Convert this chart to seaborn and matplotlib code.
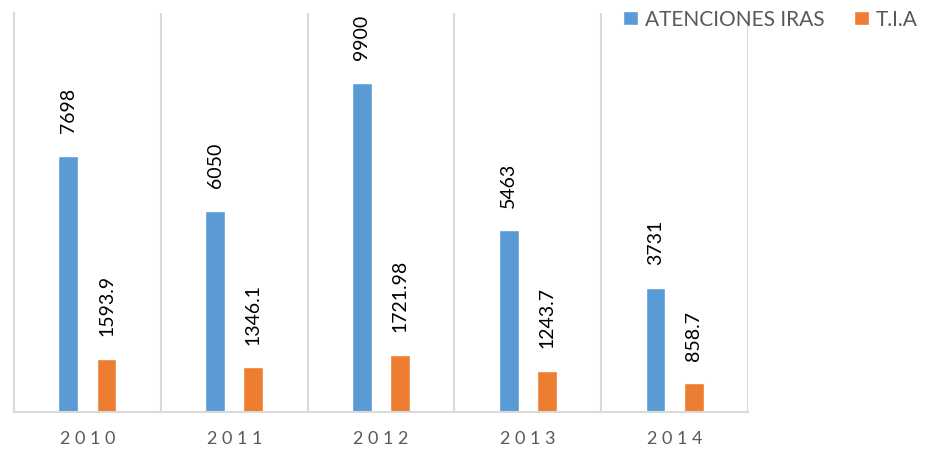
import pandas as pd
import matplotlib
matplotlib.use('Agg')
import matplotlib.pyplot as plt
import seaborn as sns

years = ['2010', '2011', '2012', '2013', '2014']
atenciones = [7698, 6050, 9900, 5463, 3731]
tia = [1593.9, 1346.1, 1721.98, 1243.7, 858.7]
atenciones_labels = ['7698', '6050', '9900', '5463', '3731']
tia_labels = ['1593.9', '1346.1', '1721.98', '1243.7', '858.7']
series_names = ['ATENCIONES IRAS', 'T.I.A']

df = pd.DataFrame({
    'year': years * 2,
    'serie': [series_names[0]] * 5 + [series_names[1]] * 5,
    'valor': atenciones + tia,
})

sns.set_theme(style='white')
plt.rcParams['font.family'] = ['Lato', 'DejaVu Sans']

fig = plt.figure(figsize=(9.3, 4.52), dpi=100)
ax = fig.add_axes([14 / 930, 39 / 452, 734 / 930, 399 / 452])

sns.barplot(data=df, x='year', y='valor', hue='serie', order=years,
            hue_order=series_names, palette=['#5B9BD5', '#ED7D31'],
            saturation=1, width=0.52, gap=0.48, ax=ax, legend=True)

ax.set_ylim(0, 12000)
ax.set_xlim(-0.5, 4.5)
ax.set_xlabel('')
ax.set_ylabel('')
ax.set_yticks([])
# lineas verticales entre categorias
for x in [0.5, 1.5, 2.5, 3.5, 4.5]:
    ax.axvline(x, color='#D9D9D9', lw=1.5, zorder=0)

for s in ['top', 'right']:
    ax.spines[s].set_visible(False)
ax.spines['left'].set_color('#D9D9D9')
ax.spines['left'].set_linewidth(1.5)
ax.spines['bottom'].set_color('#D9D9D9')
ax.spines['bottom'].set_linewidth(1.5)

ax.tick_params(axis='x', length=0, pad=13, labelsize=13, labelcolor='#595959')
ax.set_xticks(range(len(years)))
ax.set_xticklabels([' '.join(y) for y in years])

for cont, labs in zip(ax.containers, [atenciones_labels, tia_labels]):
    ax.bar_label(cont, labels=labs, rotation=90, padding=17, fontsize=14,
                 color='#000000')

handles, _ = ax.get_legend_handles_labels()
ax.legend(handles, series_names, loc='upper right',
          bbox_to_anchor=(926 / 930, 1 - 2 / 452),
          bbox_transform=fig.transFigure, ncol=2, frameon=False, fontsize=15,
          labelcolor='#595959', handlelength=0.7, handleheight=0.7,
          handletextpad=0.35, columnspacing=1.4, borderaxespad=0)

fig.savefig('out.png', dpi=100)
